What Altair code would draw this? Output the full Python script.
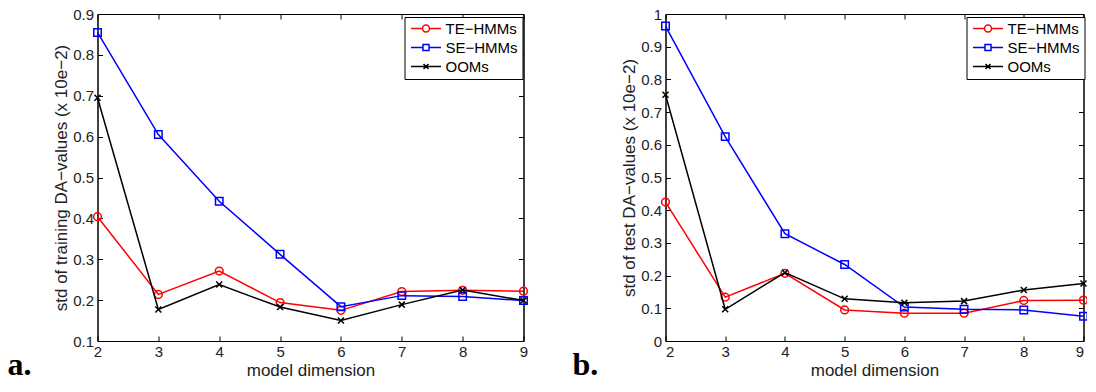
import altair as alt
import pandas as pd

dims = [2, 3, 4, 5, 6, 7, 8, 9]
series_names = ["TE−HMMs", "SE−HMMs", "OOMs"]

train_te = [0.404, 0.214, 0.271, 0.194, 0.175, 0.221, 0.224, 0.222]
train_se = [0.855, 0.605, 0.442, 0.312, 0.184, 0.211, 0.209, 0.199]
train_oom = [0.695, 0.177, 0.238, 0.183, 0.150, 0.189, 0.225, 0.199]

test_te = [0.425, 0.134, 0.207, 0.095, 0.085, 0.085, 0.124, 0.125]
test_se = [0.963, 0.625, 0.328, 0.234, 0.104, 0.097, 0.095, 0.076]
test_oom = [0.753, 0.097, 0.209, 0.129, 0.117, 0.122, 0.156, 0.176]

left_yticks = [0.1, 0.2, 0.3, 0.4, 0.5, 0.6, 0.7, 0.8, 0.9]
right_yticks = [0, 0.1, 0.2, 0.3, 0.4, 0.5, 0.6, 0.7, 0.8, 0.9, 1.0]

y_titles = ["std of training DA−values (x 10e−2)", "std of test DA−values (x 10e−2)"]
x_title = "model dimension"
panel_letters = ["a.", "b."]

colors = ["#ff0000", "#0000ff", "#000000"]
marker_shapes = ["circle", "square", "M-1,-1L1,1M-1,1L1,-1"]
marker_sizes = [60, 56, 36]
legend_paths = [
    "M-1,0L1.3,0M2.7,0L5,0M2.7,0A0.7,0.7,0,1,1,1.3,0A0.7,0.7,0,1,1,2.7,0",
    "M-1,0L1.4,0M2.6,0L5,0M1.4,-0.6L2.6,-0.6L2.6,0.6L1.4,0.6Z",
    "M-1,0L5,0M1.5,-0.5L2.5,0.5M1.5,0.5L2.5,-0.5",
]

FONT = "Liberation Sans"
TICK_IN = {"expr": "-5"}
PLOT_H = 327


def make_df(te, se, oom):
    rows = []
    for name, vals in zip(series_names, [te, se, oom]):
        for d, v in zip(dims, vals):
            rows.append({"dim": d, "val": v, "series": name})
    return pd.DataFrame(rows)


def panel(te, se, oom, ytitle, ydomain, yticks, letter, letter_x, width, legend_x, flush):
    df = make_df(te, se, oom)
    base = alt.Chart(df)
    xs = alt.Scale(domain=[2, 9], nice=False, zero=False)
    ys = alt.Scale(domain=ydomain, nice=False, zero=False)

    ax_bottom = alt.Axis(orient="bottom", values=dims, format="d", title=x_title,
                         tickSize=TICK_IN, labelPadding=8, titlePadding=3,
                         labelFlush=flush)
    ax_left = alt.Axis(orient="left", values=yticks, format=".1~f", title=ytitle,
                       tickSize=TICK_IN, labelPadding=9, titlePadding=2)
    ax_top = alt.Axis(orient="top", values=dims, labels=False, title=None, tickSize=TICK_IN)
    ax_right = alt.Axis(orient="right", values=yticks, labels=False, title=None, tickSize=TICK_IN)

    leg = alt.Legend(orient="none", legendX=legend_x, legendY=3, title=None,
                     symbolSize=100, symbolStrokeWidth=1.5, symbolOpacity=1,
                     symbolFillColor="transparent",
                     labelFont=FONT, labelFontSize=15, labelColor="black",
                     labelOffset=22, strokeColor="black", fillColor="white",
                     padding=4, rowPadding=3)

    legend_layer = base.transform_filter("datum.dim > 100").mark_point(
        opacity=0, filled=False, size=100).encode(
        x=alt.X("dim:Q", scale=xs, axis=None),
        y=alt.Y("val:Q", scale=ys, axis=None),
        color=alt.Color("series:N", scale=alt.Scale(domain=series_names, range=colors), legend=leg),
        shape=alt.Shape("series:N", scale=alt.Scale(domain=series_names, range=legend_paths), legend=leg),
    )

    layers = [legend_layer]
    for i, name in enumerate(series_names):
        sub = base.transform_filter(alt.datum.series == name)
        line = sub.mark_line(color=colors[i], strokeWidth=1.5).encode(
            x=alt.X("dim:Q", scale=xs, axis=ax_bottom if i == 0 else None),
            y=alt.Y("val:Q", scale=ys, axis=ax_left if i == 0 else None),
        )
        pts = sub.mark_point(shape=marker_shapes[i], color=colors[i], filled=False,
                             size=marker_sizes[i], strokeWidth=1.5, opacity=1).encode(
            x=alt.X("dim:Q", scale=xs, axis=ax_top if i == 0 else None),
            y=alt.Y("val:Q", scale=ys, axis=ax_right if i == 0 else None),
        )
        layers += [line, pts]

    txt = alt.Chart(pd.DataFrame({"t": [letter]})).mark_text(
        font="Liberation Serif", fontWeight="bold", fontSize=32,
        align="left", baseline="alphabetic", color="black"
    ).encode(text="t:N", x=alt.value(letter_x), y=alt.value(PLOT_H + 34))
    layers.append(txt)

    return alt.layer(*layers).resolve_axis(x="independent", y="independent").properties(
        width=width, height=PLOT_H)


p1 = panel(train_te, train_se, train_oom, y_titles[0], [0.1, 0.9], left_yticks,
           panel_letters[0], -90, 426, 307, False)
p2 = panel(test_te, test_se, test_oom, y_titles[1], [0, 1], right_yticks,
           panel_letters[1], -93, 418, 301, True)

chart = alt.hconcat(p1, p2, spacing=142, bounds="flush").resolve_scale(
    x="independent", y="independent", color="independent", shape="independent"
).properties(
    padding={"left": -1.5, "top": -2, "right": -5, "bottom": -5}
).configure_view(
    stroke="black", strokeWidth=1
).configure_axis(
    domainColor="black", domainWidth=1, tickColor="black", tickWidth=1,
    labelFont=FONT, labelFontSize=15, labelColor="#222",
    titleFont=FONT, titleFontSize=17, titleFontWeight="normal", titleColor="#222",
    grid=False
)

chart.save("out.html", embed_options={"renderer": "svg", "actions": False})
